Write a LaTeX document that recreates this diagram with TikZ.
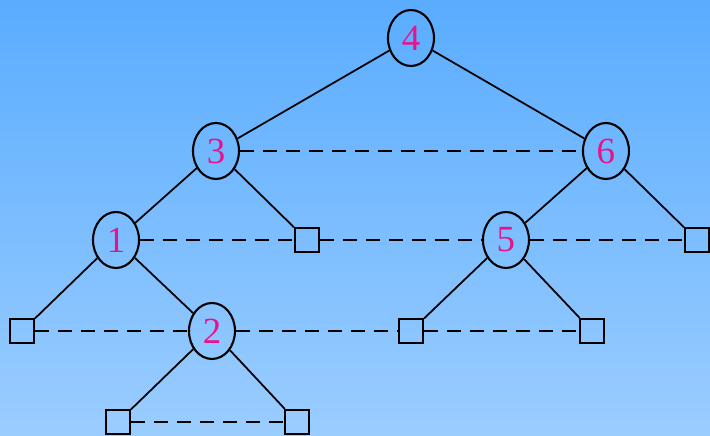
\documentclass[tikz,border=0pt]{standalone}
\usepackage{fontspec}
\setmainfont{Liberation Serif}
\usetikzlibrary{shapes.geometric}
\definecolor{topblue}{RGB}{90,172,255}
\definecolor{botblue}{RGB}{155,205,255}
\definecolor{keypink}{RGB}{230,20,140}

\begin{document}
\begin{tikzpicture}[x=0.02cm,y=-0.02cm,
    k/.style={ellipse,draw,line width=1.2pt,minimum width=0.92cm,minimum height=1.12cm,
      inner sep=0pt,text=keypink,font=\fontsize{21}{24}\selectfont},
    ext/.style={rectangle,draw,line width=1.2pt,minimum size=0.48cm,inner sep=0pt},
    e/.style={line width=1pt},
    th/.style={line width=1pt,dash pattern=on 0.28cm off 0.18cm}]
    \shade[top color=topblue,bottom color=botblue] (0,0) rectangle (710,436);
    \node[k] (n4) at (411,38) {4};
    \node[k] (n3) at (216,151) {3};
    \node[k] (n6) at (606,151) {6};
    \node[k] (n1) at (116,240) {1};
    \node[k] (n5) at (506,240) {5};
    \node[k] (n2) at (212,331) {2};
    \node[ext] (x3) at (307,240) {};
    \node[ext] (x6) at (697,240) {};
    \node[ext] (x1) at (22,331) {};
    \node[ext] (x5a) at (411,331) {};
    \node[ext] (x5b) at (592,331) {};
    \node[ext] (x2a) at (118,422) {};
    \node[ext] (x2b) at (297,422) {};
    \draw[e](n4)--(n3);\draw[e](n4)--(n6);
    \draw[e](n3)--(n1);\draw[e](n3)--(x3);
    \draw[e](n6)--(n5);\draw[e](n6)--(x6);
    \draw[e](n1)--(x1);\draw[e](n1)--(n2);
    \draw[e](n5)--(x5a);\draw[e](n5)--(x5b);
    \draw[e](n2)--(x2a);\draw[e](n2)--(x2b);
    % threads
    \draw[th](n3)--(n6);
    \draw[th](n1)--(x3);\draw[th](x3)--(n5);\draw[th](n5)--(x6);
    \draw[th](x1)--(n2);\draw[th](n2)--(x5a);\draw[th](x5a)--(x5b);
    \draw[th](x2a)--(x2b);
  \end{tikzpicture}
\end{document}
